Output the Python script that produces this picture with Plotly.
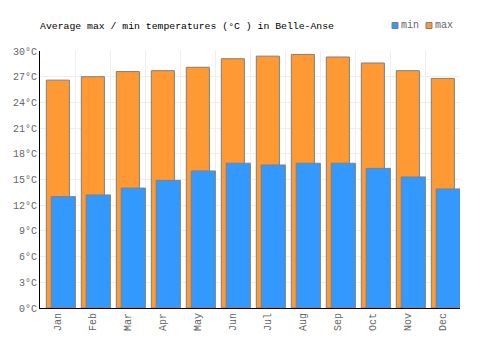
import plotly.graph_objects as go

months = ["Jan", "Feb", "Mar", "Apr", "May", "Jun", "Jul", "Aug", "Sep", "Oct", "Nov", "Dec"]
t_max = [26.6, 27.0, 27.6, 27.7, 28.1, 29.1, 29.4, 29.6, 29.3, 28.6, 27.7, 26.8]
t_min = [13.0, 13.2, 14.0, 14.9, 16.0, 16.9, 16.7, 16.9, 16.9, 16.3, 15.3, 13.9]
y_ticks = list(range(0, 31, 3))
legend_names = ["min", "max"]

ORANGE = "#FF9933"
BLUE = "#3399FF"
BORDER = "#808080"
FONT = "Liberation Mono"

W, H = 500, 350
L, R, T, B = 40, 40, 51, 42
PW, PH = W - L - R, H - T - B


def px_x(px):
    return (px - L) / PW


def px_y(py):
    return (H - B - py) / PH


fig = go.Figure()
fig.add_trace(go.Bar(
    x=months, y=t_max, name="max", offset=-0.32, width=0.66,
    marker=dict(color=ORANGE, line=dict(color=BORDER, width=1)),
    showlegend=False, hoverinfo="skip",
))
fig.add_trace(go.Bar(
    x=months, y=t_min, name="min", offset=-0.18, width=0.69,
    marker=dict(color=BLUE, line=dict(color=BORDER, width=1)),
    showlegend=False, hoverinfo="skip",
))

# custom legend (swatch + label)
shapes = []
annotations = []
for name, col, sx in zip(legend_names, [BLUE, ORANGE], [392, 426]):
    shapes.append(dict(
        type="rect", xref="paper", yref="paper",
        x0=px_x(sx), x1=px_x(sx + 6), y0=px_y(28.5), y1=px_y(22.5),
        fillcolor=col, line=dict(color=BORDER, width=1), layer="above",
    ))
    annotations.append(dict(
        text=name, xref="paper", yref="paper", x=px_x(sx + 6.5), y=px_y(25.5),
        xanchor="left", yanchor="middle", showarrow=False,
        font=dict(family=FONT, size=10, color="#666666"),
    ))

fig.update_layout(
    width=W, height=H,
    margin=dict(l=L, r=R, t=T, b=B),
    barmode="overlay",
    plot_bgcolor="white", paper_bgcolor="white",
    font=dict(family=FONT, size=10, color="#666666"),
    showlegend=False,
    title=dict(
        text="Average max / min temperatures (°C ) in Belle-Anse",
        x=L / W, xanchor="left", y=1 - 25.5 / H, yanchor="middle", yref="container",
        font=dict(family=FONT, size=9.8, color="black"),
    ),
    shapes=shapes,
    annotations=annotations,
    xaxis=dict(
        type="category", range=[-0.5, 11.5], tickangle=-90,
        showgrid=True, gridcolor="#EEEEEE", gridwidth=1, tickson="boundaries",
        ticks="", showline=True, linecolor="black", linewidth=1,
        tickfont=dict(family=FONT, size=10, color="#666666"),
    ),
    yaxis=dict(
        range=[0, 30], tickvals=y_ticks, ticktext=[f"{v}°C" for v in y_ticks],
        showgrid=True, gridcolor="#EEEEEE", gridwidth=1, zeroline=False,
        ticks="", showline=True, linecolor="black", linewidth=1,
        tickfont=dict(family=FONT, size=10, color="#666666"),
    ),
)

fig.write_html("out.html")
